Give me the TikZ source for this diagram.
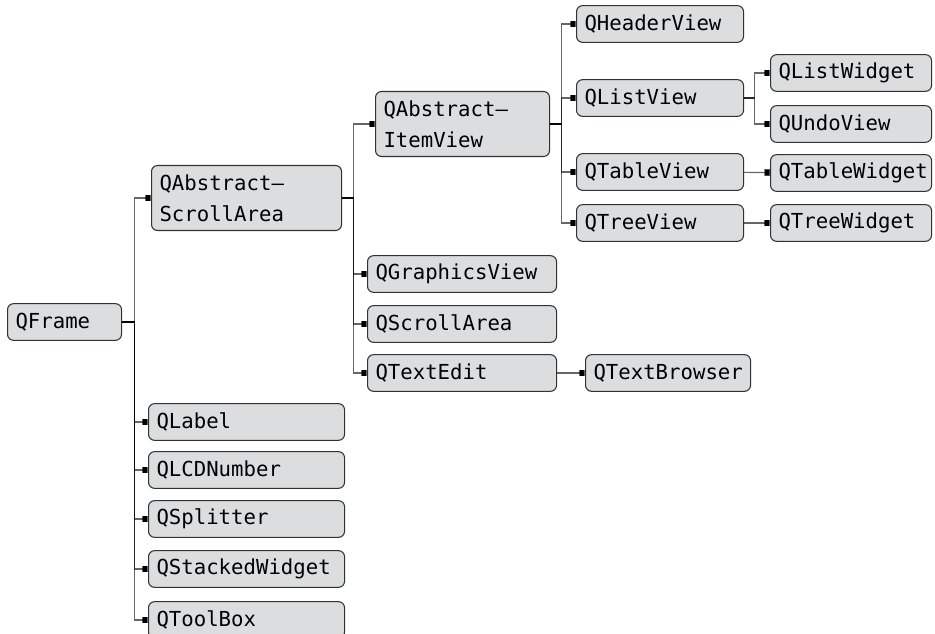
\documentclass[tikz,border=0pt]{standalone}
\usepackage{fontspec}
\setmainfont{DejaVu Sans Mono}
\usepackage{tikz}
\usetikzlibrary{arrows.meta}
\definecolor{boxfill}{RGB}{220,221,223}
\definecolor{boxline}{RGB}{50,50,50}

\begin{document}
\begin{tikzpicture}[
      x=0.75pt, y=-0.75pt,
      cls/.style  ={rounded corners=4.5pt, draw=boxline, fill=boxfill,
                    line width=0.8pt, anchor=west, align=left,
                    inner xsep=6pt, inner ysep=2pt,
                    font=\fontsize{15.5}{23}\selectfont,
                    minimum height=27.5pt, text width=#1},
      cls/.default=100pt,
      edge/.style ={-{Square[length=4.2pt,width=5pt]}, line width=0.8pt,
                    draw=black, draw opacity=0.6}
    ]
    \useasboundingbox (0,0) rectangle (935,634);
    % --- root and first level ---
    \node[cls=73.5pt] (frame) at (7,322) {QFrame};
    \node[cls=130.5pt, minimum height=48.75pt] (sarea) at (151,198)
      {QAbstract–\\ScrollArea};
    \node[cls=135pt] (label)   at (148,422) {QLabel};
    \node[cls=135pt] (lcd)     at (148,470) {QLCDNumber};
    \node[cls=135pt] (split)   at (148,519) {QSplitter};
    \node[cls=135pt] (stacked) at (148,569) {QStackedWidget};
    \node[cls=135pt] (toolbox) at (148,620) {QToolBox};
    % --- scroll area children ---
    \node[cls=118.5pt, minimum height=48.75pt] (iview) at (375,124)
      {QAbstract–\\ItemView};
    \node[cls=129.75pt] (gview)  at (367,274) {QGraphicsView};
    \node[cls=129.75pt] (scroll) at (367,324) {QScrollArea};
    \node[cls=129.75pt] (tedit)  at (367,373) {QTextEdit};
    \node[cls=111.75pt] (tbrowse) at (585,373) {QTextBrowser};
    % --- item views ---
    \node[cls=113.25pt] (header) at (576,24)  {QHeaderView};
    \node[cls=113.25pt] (list)   at (576,98)  {QListView};
    \node[cls=113.25pt] (table)  at (576,172) {QTableView};
    \node[cls=113.25pt] (tree)   at (576,223) {QTreeView};
    \node[cls=108.75pt] (lwidget) at (770,73)  {QListWidget};
    \node[cls=108.75pt] (undo)    at (770,124) {QUndoView};
    \node[cls=108.75pt] (twidget) at (770,173) {QTableWidget};
    \node[cls=108.75pt] (trwidget) at (770,223) {QTreeWidget};
    % --- connectors ---
    \foreach \c in {sarea,label,lcd,split,stacked,toolbox}
      \draw[edge] (frame.east) -- ++(9pt,0) |- (\c.west);
    \foreach \c in {iview,gview,scroll,tedit}
      \draw[edge] (sarea.east) -- ++(8.25pt,0) |- (\c.west);
    \foreach \c in {header,list,table,tree}
      \draw[edge] (iview.east) -- ++(8.25pt,0) |- (\c.west);
    \foreach \c in {lwidget,undo}
      \draw[edge] (list.east) -- ++(7.5pt,0) |- (\c.west);
    \draw[edge] (table) -- (twidget);
    \draw[edge] (tree)  -- (trwidget);
    \draw[edge] (tedit) -- (tbrowse);
  \end{tikzpicture}
\end{document}
